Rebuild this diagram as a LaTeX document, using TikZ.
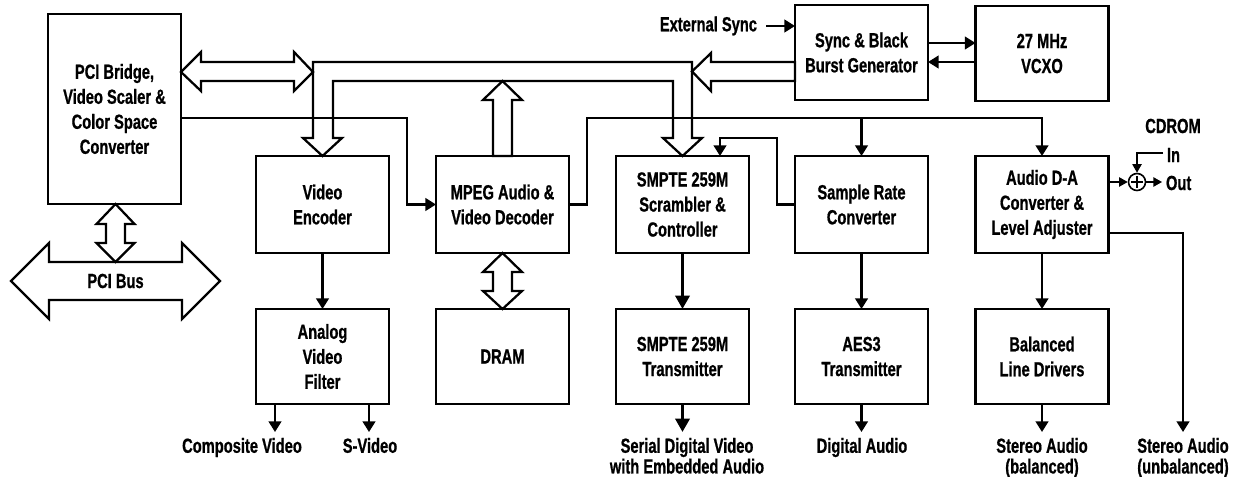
\documentclass[tikz,border=0pt]{standalone}
\usepackage{fontspec}
\newfontfamily\labfont[FakeStretch=0.72,FakeBold=0.8]{Liberation Sans}
\newcommand\boxfont{\labfont\bfseries\fontsize{15.3}{18.75}\selectfont}
\newcommand\outfont{\labfont\bfseries\fontsize{15.3}{15.5}\selectfont}
\usetikzlibrary{arrows.meta,calc}
\begin{document}
\begin{tikzpicture}[x=0.75pt,y=-0.75pt,
  box/.style={draw, line width=1.8pt, minimum width=99.75pt, inner sep=0pt, outer sep=0pt, align=center, font=\boxfont},
  rowtwo/.style={box, minimum height=72.75pt},
  rowthree/.style={box, minimum height=71.25pt},
  lbl/.style={inner sep=0pt, outer sep=0pt, align=center, font=\outfont},
  arr/.style={line width=1.7pt, -{Triangle[length=8pt,width=9.5pt]}},
  thk/.style={line width=2.6pt, -{Triangle[length=10pt,width=10.5pt]}},
  sm/.style={line width=1.2pt, -{Triangle[length=6.5pt,width=7pt]}},
  fat/.style={draw, line width=1.7pt, line join=miter}
]
\useasboundingbox (0,0) rectangle (1237,477);

% blocks
\node[box, minimum height=142.5pt] (bridge) at (114.5,109) {PCI Bridge,\\Video Scaler \&\\Color Space\\Converter};
\node[box, minimum height=71.25pt] (sync) at (861.5,52.5) {Sync \& Black\\Burst Generator};
\node[box, minimum height=71.25pt] (vcxo) at (1042,53.5) {27 MHz\\VCXO};

\node[rowtwo] (venc) at (322.5,204.5) {Video\\Encoder};
\node[rowtwo] (mpeg) at (502.5,204.5) {MPEG Audio \&\\Video Decoder};
\node[rowtwo] (scr) at (682.5,204.5) {SMPTE 259M\\Scrambler \&\\Controller};
\node[rowtwo] (src) at (861.5,204.5) {Sample Rate\\Converter};
\node[rowtwo] (dac) at (1042,204.5) {Audio D-A\\Converter \&\\Level Adjuster};

\node[rowthree] (avf) at (322.5,356.5) {Analog\\Video\\Filter};
\node[rowthree] (dram) at (502.5,356.5) {DRAM};
\node[rowthree] (stx) at (682.5,356.5) {SMPTE 259M\\Transmitter};
\node[rowthree] (aes) at (861.5,356.5) {AES3\\Transmitter};
\node[rowthree] (bld) at (1042,356.5) {Balanced\\Line Drivers};

% fat arrows / bus
\draw[fat] (313,138) -- (313,62) -- (692,62) -- (692,138) -- (702,138) -- (682.5,156)
  -- (663,138) -- (673,138) -- (673,81) -- (333,81) -- (333,138) -- (342,138)
  -- (322.5,156) -- (303,138) -- cycle;
\draw[fat] (692,71.5) -- (711,53) -- (711,62) -- (795,62) -- (795,81) -- (711,81) -- (711,91) -- cycle;
\draw[fat] (181,72) -- (201,52) -- (201,62) -- (294,62) -- (294,52) -- (313,72)
  -- (294,91) -- (294,81) -- (201,81) -- (201,91) -- cycle;
\draw[fat] (502.5,81) -- (522,100) -- (512,100) -- (512,156) -- (493,156) -- (493,100) -- (483,100) -- cycle;
\draw[fat] (115.5,204) -- (134.5,224) -- (125,224) -- (125,243) -- (134.5,243) -- (115.5,262)
  -- (96.5,243) -- (106,243) -- (106,224) -- (96.5,224) -- cycle;
\draw[fat] (502.5,253) -- (522,272) -- (512,272) -- (512,291) -- (522,291) -- (502.5,309)
  -- (483,291) -- (493,291) -- (493,272) -- (483,272) -- cycle;
\draw[fat] (11,281) -- (49,243) -- (49,262) -- (182,262) -- (182,243) -- (220,281)
  -- (182,319) -- (182,300) -- (49,300) -- (49,319) -- cycle;
\node[lbl, font=\boxfont] (pcibus) at (115.5,281) {PCI Bus};

% sync area
\node[lbl, font=\boxfont, anchor=east] (ext) at (757,26) {External Sync};
\draw[arr] ([xshift=7pt]ext.east) -- (ext.east -| sync.west);
\draw[arr] (sync.east |- 0,43) -- (vcxo.west |- 0,43);
\draw[arr] (vcxo.west |- 0,62) -- (sync.east |- 0,62);

% thin signal lines
\draw[arr] (bridge.east |- 0,118) -- (407,118) |- (mpeg.west);
\draw[arr] (mpeg.east) -- (587,204.5) -- (587,118) -| (dac.north);
\draw[arr] (src.north |- 0,118) -- (src.north);
\draw[arr] (src.west) -- (777,204.5) -- (777,138) -- (720,138) -- (scr.north -| 720,0);

% vertical connections
\draw[arr] (venc.south) -- (avf.north);
\draw[thk] (scr.south) -- (stx.north);
\draw[arr] (src.south) -- (aes.north);
\draw[arr] (dac.south) -- (bld.north);

% outputs
\node[lbl, anchor=north] (cv) at (242,438) {Composite Video};
\node[lbl, anchor=north] (sv) at (370,438) {S-Video};
\node[lbl, anchor=north] (sdv) at (687,438) {Serial Digital Video\\with Embedded Audio};
\node[lbl, anchor=north] (da) at (862,438) {Digital Audio};
\node[lbl, anchor=north] (sab) at (1042,438) {Stereo Audio\\(balanced)};
\node[lbl, anchor=north] (sau) at (1183,438) {Stereo Audio\\(unbalanced)};
\coordinate (cvend) at (275,432);
\coordinate (svend) at (369,432);
\coordinate (uend) at (1183,432);
\draw[arr] (avf.south -| cvend) -- (cvend);
\draw[arr] (avf.south -| svend) -- (svend);
\draw[thk] (stx.south) -- (stx.south |- 0,432);
\draw[arr] (aes.south) -- (aes.south |- 0,432);
\draw[arr] (bld.south) -- (bld.south |- 0,432);
\draw[arr] (dac.east |- 0,233) -| (uend);

% CDROM summing
\node[draw, circle, line width=1.2pt, minimum size=12.75pt, inner sep=0pt] (sum) at (1137,182) {};
\draw[line width=0.9pt] ([xshift=-4.5pt]sum.center) -- ([xshift=4.5pt]sum.center)
  ([yshift=-4.5pt]sum.center) -- ([yshift=4.5pt]sum.center);
\draw[sm] (dac.east |- sum.west) -- (sum.west);
\node[lbl, font=\boxfont, anchor=west] (out) at (1166,183) {Out};
\node[lbl, font=\boxfont, anchor=west] (in) at (1167,155) {In};
\node[lbl, font=\boxfont] (cdrom) at (1173,126) {CDROM};
\coordinate (outend) at (1162,182);
\coordinate (inend) at (1163,153);
\draw[sm] (sum.east) -- (outend);
\draw[sm] (inend) -| (sum.north);
\end{tikzpicture}
\end{document}
